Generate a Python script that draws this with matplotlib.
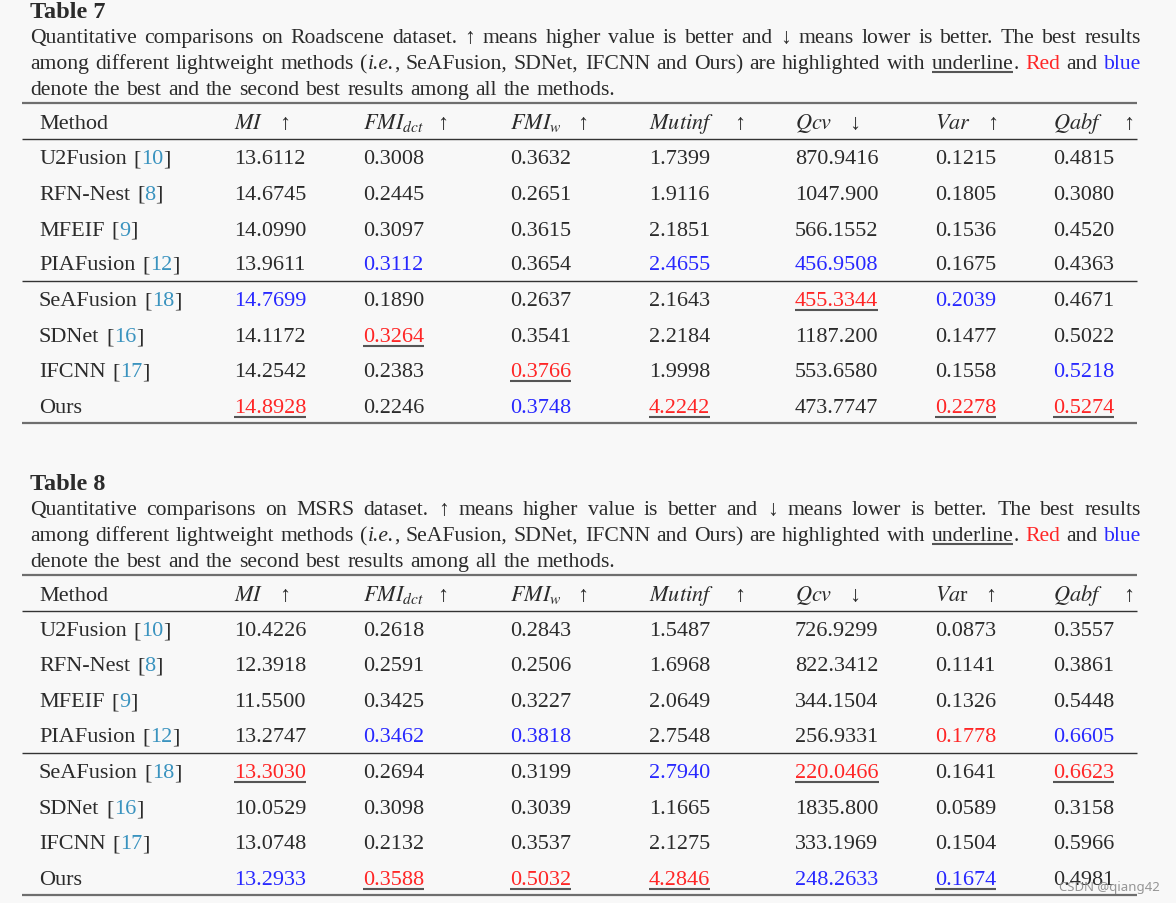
import matplotlib
matplotlib.use("Agg")
import matplotlib.pyplot as plt

plt.rcParams['font.family'] = ['Liberation Serif', 'DejaVu Serif']
plt.rcParams['mathtext.fontset'] = 'stix'

# --- data ---
methods = ["U2Fusion", "RFN-Nest", "MFEIF", "PIAFusion", "SeAFusion", "SDNet", "IFCNN", "Ours"]
refs = ["10", "8", "9", "12", "18", "16", "17", ""]

headers_t7 = [("$MI$", "↑"), ("$FMI_{dct}$", "↑"), ("$FMI_w$", "↑"), ("$Mutinf$", "↑"),
              ("$Qcv$", "↓"), ("$Var$", "↑"), ("$Qabf$", "↑")]
headers_t8 = [("$MI$", "↑"), ("$FMI_{dct}$", "↑"), ("$FMI_w$", "↑"), ("$Mutinf$", "↑"),
              ("$Qcv$", "↓"), ("$Va$r", "↑"), ("$Qabf$", "↑")]

# Table 7 (Roadscene)
t7_mi = ["13.6112", "14.6745", "14.0990", "13.9611", "14.7699", "14.1172", "14.2542", "14.8928"]
t7_fmi_dct = ["0.3008", "0.2445", "0.3097", "0.3112", "0.1890", "0.3264", "0.2383", "0.2246"]
t7_fmi_w = ["0.3632", "0.2651", "0.3615", "0.3654", "0.2637", "0.3541", "0.3766", "0.3748"]
t7_mutinf = ["1.7399", "1.9116", "2.1851", "2.4655", "2.1643", "2.2184", "1.9998", "4.2242"]
t7_qcv = ["870.9416", "1047.900", "566.1552", "456.9508", "455.3344", "1187.200", "553.6580", "473.7747"]
t7_var = ["0.1215", "0.1805", "0.1536", "0.1675", "0.2039", "0.1477", "0.1558", "0.2278"]
t7_qabf = ["0.4815", "0.3080", "0.4520", "0.4363", "0.4671", "0.5022", "0.5218", "0.5274"]

# r = red (best), b = blue (second), u = underline (best lightweight)
t7_mi_st = ["", "", "", "", "b", "", "", "ru"]
t7_fmi_dct_st = ["", "", "", "b", "", "ru", "", ""]
t7_fmi_w_st = ["", "", "", "", "", "", "ru", "b"]
t7_mutinf_st = ["", "", "", "b", "", "", "", "ru"]
t7_qcv_st = ["", "", "", "b", "ru", "", "", ""]
t7_var_st = ["", "", "", "", "b", "", "", "ru"]
t7_qabf_st = ["", "", "", "", "", "", "b", "ru"]

# Table 8 (MSRS)
t8_mi = ["10.4226", "12.3918", "11.5500", "13.2747", "13.3030", "10.0529", "13.0748", "13.2933"]
t8_fmi_dct = ["0.2618", "0.2591", "0.3425", "0.3462", "0.2694", "0.3098", "0.2132", "0.3588"]
t8_fmi_w = ["0.2843", "0.2506", "0.3227", "0.3818", "0.3199", "0.3039", "0.3537", "0.5032"]
t8_mutinf = ["1.5487", "1.6968", "2.0649", "2.7548", "2.7940", "1.1665", "2.1275", "4.2846"]
t8_qcv = ["726.9299", "822.3412", "344.1504", "256.9331", "220.0466", "1835.800", "333.1969", "248.2633"]
t8_var = ["0.0873", "0.1141", "0.1326", "0.1778", "0.1641", "0.0589", "0.1504", "0.1674"]
t8_qabf = ["0.3557", "0.3861", "0.5448", "0.6605", "0.6623", "0.3158", "0.5966", "0.4981"]

t8_mi_st = ["", "", "", "", "ru", "", "", "b"]
t8_fmi_dct_st = ["", "", "", "b", "", "", "", "ru"]
t8_fmi_w_st = ["", "", "", "b", "", "", "", "ru"]
t8_mutinf_st = ["", "", "", "", "b", "", "", "ru"]
t8_qcv_st = ["", "", "", "", "ru", "", "", "b"]
t8_var_st = ["", "", "", "r", "", "", "", "bu"]
t8_qabf_st = ["", "", "", "b", "ru", "", "", ""]

TXT = "#2b2b2b"
RED = "#ff2626"
BLUE = "#2828ff"
CITE = "#3a93bf"
BG = "#f8f8f8"

fig = plt.figure(figsize=(11.76, 9.04), dpi=100, facecolor=BG)
ax = fig.add_axes([0, 0, 1, 1])
ax.set_xlim(0, 1176)
ax.set_ylim(904, 0)
ax.axis("off")
renderer = fig.canvas.get_renderer()

CAP_SIZE = 15.6
TAB_SIZE = 16


def width_of(t):
    return t.get_window_extent(renderer).width


def put(x, y, s, size, color=TXT, underline=False, **kw):
    t = ax.text(x, y, s, fontsize=size, color=color, ha="left", va="baseline", **kw)
    w = width_of(t)
    if underline:
        ax.plot([x, x + w], [y + 4, y + 4], color="#555555", lw=1.5, solid_capstyle="butt")
    return w


def to_words(segments):
    words = [[]]
    for txt, st in segments:
        parts = txt.split(" ")
        for i, p in enumerate(parts):
            if i > 0:
                words.append([])
            if p:
                words[-1].append((p, st))
    return [w for w in words if w]


def style_kw(st):
    kw = {"color": TXT}
    if "r" in st:
        kw["color"] = RED
    if "b" in st:
        kw["color"] = BLUE
    if "i" in st:
        kw["style"] = "italic"
    return kw


def caption_line(segments, y, x0=30, x1=1141, justify=True):
    words = to_words(segments)
    # measure
    wlens = []
    for w in words:
        tot = 0
        for p, st in w:
            t = ax.text(0, 0, p, fontsize=CAP_SIZE, **style_kw(st))
            tot += width_of(t)
            t.remove()
        wlens.append(tot)
    if justify:
        gap = (x1 - x0 - sum(wlens)) / (len(words) - 1)
    else:
        gap = CAP_SIZE * 100 / 72 * 0.3
    x = x0
    for w, wl in zip(words, wlens):
        for p, st in w:
            x += put(x, y, p, CAP_SIZE, underline=("u" in st), **style_kw(st))
        x += gap


def draw_table(title, dataset, headers, cols, styles, dy):
    ax.text(30, 18 + dy, title, fontsize=17.5, fontweight="bold", color=TXT, ha="left", va="baseline")
    caption_line([("Quantitative comparisons on " + dataset + " dataset. ↑ means higher value is better "
                   "and ↓ means lower is better. The best results", "")], 43 + dy)
    caption_line([("among different lightweight methods (", ""), ("i.e.", "i"),
                  (", SeAFusion, SDNet, IFCNN and Ours) are highlighted with ", ""),
                  ("underline", "u"), (". ", ""), ("Red", "r"), (" and ", ""), ("blue", "b")], 69 + dy)
    caption_line([("denote the best and the second best results among all the methods.", "")],
                 95 + dy, justify=False)

    # rules
    ax.plot([22, 1137], [104 + dy, 104 + dy], color="#6e6e6e", lw=1.6, solid_capstyle="butt")
    ax.plot([22, 1137], [140 + dy, 140 + dy], color="#333333", lw=1.0, solid_capstyle="butt")
    ax.plot([22, 1137], [282 + dy, 282 + dy], color="#333333", lw=1.0, solid_capstyle="butt")
    ax.plot([22, 1137], [424 + dy, 424 + dy], color="#6e6e6e", lw=1.6, solid_capstyle="butt")

    col_x = [234, 363, 510, 649, 795, 935, 1053]
    arrow_gap = [16, 13, 15, 20, 17, 16, 20]

    # header
    hy = 129 + dy
    put(39, hy, "Method", TAB_SIZE)
    for (lab, arr), x, g in zip(headers, col_x, arrow_gap):
        w = put(x, hy, lab, TAB_SIZE)
        put(x + w + g, hy, arr, TAB_SIZE)

    # rows
    row_y = [157, 192, 228, 263, 299, 335, 370, 406]
    for i, (m, ref) in enumerate(zip(methods, refs)):
        y = row_y[i] + 7.5 + dy
        w = put(39, y, m, TAB_SIZE)
        if ref:
            x = 39 + w + 7
            x += put(x, y, "[", TAB_SIZE)
            x += put(x, y, ref, TAB_SIZE, color=CITE)
            put(x, y, "]", TAB_SIZE)
        for vals, sts, x in zip(cols, styles, col_x):
            st = sts[i]
            c = RED if "r" in st else BLUE if "b" in st else TXT
            put(x, y, vals[i], TAB_SIZE, color=c, underline=("u" in st))


draw_table("Table 7", "Roadscene", headers_t7,
           [t7_mi, t7_fmi_dct, t7_fmi_w, t7_mutinf, t7_qcv, t7_var, t7_qabf],
           [t7_mi_st, t7_fmi_dct_st, t7_fmi_w_st, t7_mutinf_st, t7_qcv_st, t7_var_st, t7_qabf_st], 0)
draw_table("Table 8", "MSRS", headers_t8,
           [t8_mi, t8_fmi_dct, t8_fmi_w, t8_mutinf, t8_qcv, t8_var, t8_qabf],
           [t8_mi_st, t8_fmi_dct_st, t8_fmi_w_st, t8_mutinf_st, t8_qcv_st, t8_var_st, t8_qabf_st], 472)

# watermark
ax.text(1160, 888, "CSDN @qiang42", fontsize=9.5, family=["Noto Sans", "DejaVu Sans"],
        color="#8a8a8a", alpha=0.9, ha="right", va="center")

fig.savefig("out.png", dpi=100, facecolor=BG)
